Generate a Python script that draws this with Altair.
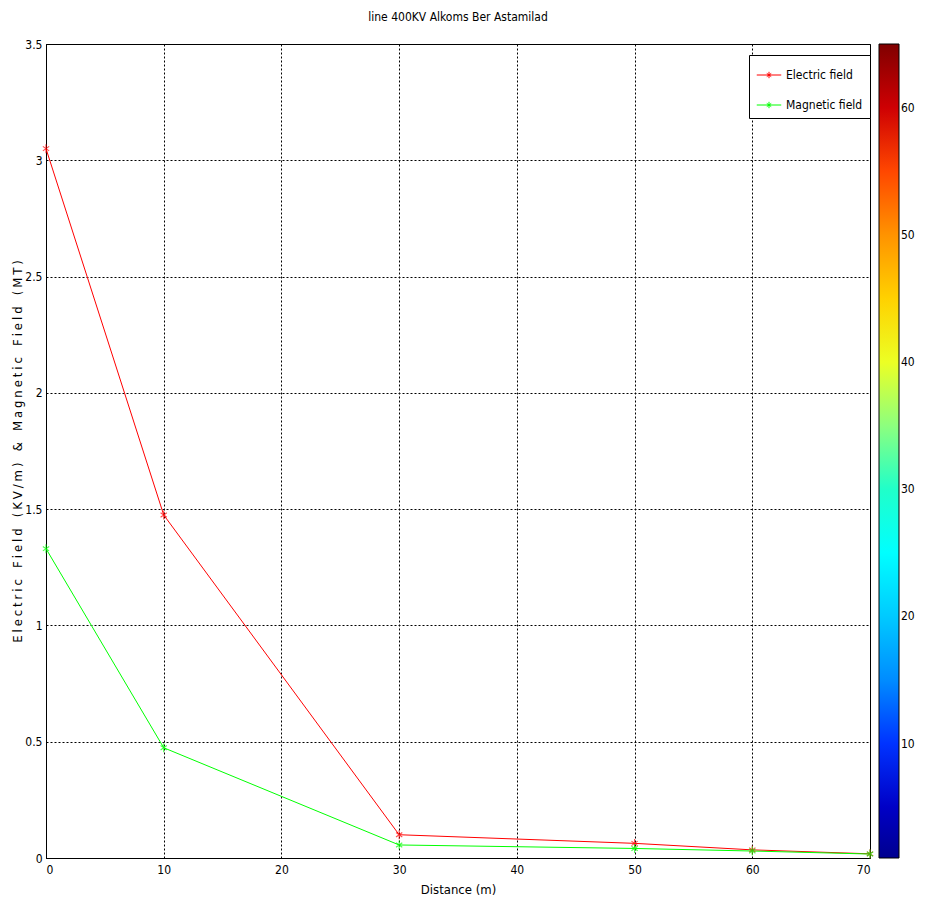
import altair as alt
import pandas as pd

distance = [0, 10, 30, 50, 60, 70]
electric = [3.05, 1.475, 0.10, 0.063, 0.035, 0.018]
magnetic = [1.33, 0.474, 0.056, 0.041, 0.030, 0.017]
series_names = ["Electric field", "Magnetic field"]
series_colors = ["#ff0000", "#00ff00"]
x_ticks = [0, 10, 20, 30, 40, 50, 60, 70]
y_ticks = [0, 0.5, 1, 1.5, 2, 2.5, 3, 3.5]
cbar_domain = [1, 9, 25, 41, 57, 65]
cbar_colors = ["#00008f", "#0000ff", "#00ffff", "#ffff00", "#ff0000", "#800000"]
cbar_ticks = [10, 20, 30, 40, 50, 60]

rows = []
for name, vals in zip(series_names, [electric, magnetic]):
    for d, v in zip(distance, vals):
        rows.append({"Distance": d, "Value": v, "Series": name})
df = pd.DataFrame(rows)
cbar_df = pd.DataFrame({"c": [cbar_domain[0], cbar_domain[-1]]})

FONT = "DejaVu Sans Condensed, Liberation Sans Narrow, Liberation Sans, sans-serif"
ASTER = "M0,-1L0,1M-0.7,-0.5L0.7,0.5M-0.7,0.5L0.7,-0.5"
LEG_SYM = "M-1,0L1,0M0,-0.26L0,0.26M-0.18,-0.13L0.18,0.13M-0.18,0.13L0.18,-0.13"

# letter-spaced y-axis title (narrow spaces between letters, wider gaps between words)
y_words = ["Electric", "Field", "(KV/m)", "&", "Magnetic", "Field", "(MT)"]
y_title = "\u00a0\u00a0\u00a0".join("\u2005".join(w) for w in y_words)

x = alt.X("Distance:Q", title="Distance (m)",
          scale=alt.Scale(domain=[0, 70], nice=False),
          axis=alt.Axis(values=x_ticks, format="d", grid=True, gridColor="#000000",
                        gridDash=[2, 2], gridOpacity=1, ticks=False, labelPadding=6,
                        domainColor="#000000", titlePadding=8))
y = alt.Y("Value:Q", title=y_title,
          scale=alt.Scale(domain=[0, 3.5], nice=False),
          axis=alt.Axis(values=y_ticks, format="~g", grid=True, gridColor="#000000",
                        gridDash=[2, 2], gridOpacity=1, ticks=False, labelPadding=4,
                        domainColor="#000000", titlePadding=0))
color = alt.Color("Series:N",
                  scale=alt.Scale(domain=series_names, range=series_colors),
                  legend=alt.Legend(title=None, orient="none", legendX=703, legendY=11,
                                    symbolType=LEG_SYM, symbolStrokeWidth=1, symbolSize=600,
                                    symbolFillColor="transparent",
                                    strokeColor="#000000", fillColor="#ffffff",
                                    padding=7, rowPadding=11, labelFontSize=12,
                                    labelOffset=4, labelFont=FONT, labelColor="#000000"))

lines = alt.Chart(df).mark_line(strokeWidth=1).encode(x=x, y=y, color=color)
points = alt.Chart(df).mark_point(shape=ASTER, filled=False, size=80, strokeWidth=1.1).encode(
    x="Distance:Q", y="Value:Q",
    color=alt.Color("Series:N", scale=alt.Scale(domain=series_names, range=series_colors), legend=None))

cbar = alt.Chart(cbar_df).mark_point(opacity=0).encode(
    x=alt.value(0), y=alt.value(0),
    fill=alt.Fill("c:Q",
                  scale=alt.Scale(domain=cbar_domain, range=cbar_colors, type="linear"),
                  legend=alt.Legend(title=None, orient="none", legendX=833, legendY=0,
                                    direction="vertical", gradientLength=814,
                                    gradientThickness=20, gradientStrokeColor="#000000",
                                    gradientStrokeWidth=1, values=cbar_ticks,
                                    labelOverlap=False, labelFontSize=12, labelFont=FONT,
                                    labelColor="#000000", labelOffset=2)))

chart = alt.layer(lines, points, cbar).properties(
    width=824, height=814,
    background="#ffffff",
    title=alt.Title("line 400KV Alkoms Ber Astamilad", fontSize=12, font=FONT,
                    fontWeight="normal", offset=14, color="#000000"),
    autosize=alt.AutoSizeParams(type="none"),
    padding={"left": 38, "top": 36, "right": 47, "bottom": 42},
).configure_view(stroke="#000000", strokeWidth=1).configure_axis(
    labelFont=FONT, labelFontSize=12, labelColor="#000000",
    titleFont=FONT, titleFontSize=13, titleFontWeight="normal", titleColor="#000000"
)

chart.save("out.html", embed_options={"renderer": "svg", "actions": False})
